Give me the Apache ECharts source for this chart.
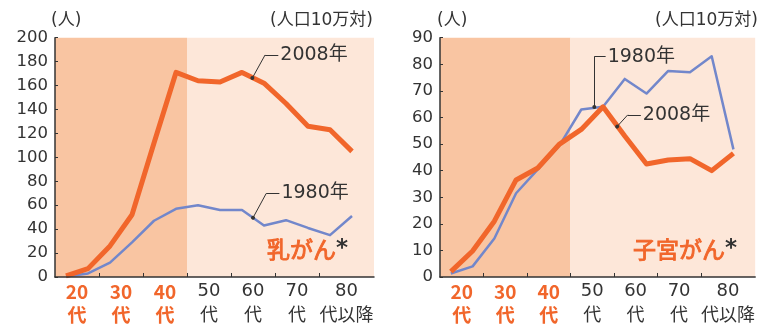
<!DOCTYPE html>
<html>
<head>
<meta charset="utf-8">
<script src="https://cdn.jsdelivr.net/npm/echarts@6/dist/echarts.min.js"></script>
<style>
  html, body { margin: 0; padding: 0; background: #ffffff; }
  #chart { width: 758px; height: 324px; }
</style>
</head>
<body>
<div id="chart"></div>
<script>
// Five-year age bins (20-24 ... 85+), incidence per 100,000 women
const ageBins = ['20-24', '25-29', '30-34', '35-39', '40-44', '45-49', '50-54',
                 '55-59', '60-64', '65-69', '70-74', '75-79', '80-84', '85+'];

// Breast cancer
const breast1980 = [0.5, 3, 12, 29, 47, 57, 60, 56, 56, 43, 47.5, 41, 35, 51];
const breast2008 = [1, 7, 26, 52, 112, 171, 164, 163, 171, 162, 145, 126, 123, 105];

// Uterine cancer
const cervix1980 = [1.3, 4, 14.5, 31.5, 40.5, 49.5, 63, 64, 74.5, 69, 77.5, 77, 83, 48];
const cervix2008 = [2, 9.8, 21, 36.5, 41, 50, 55.5, 64, 53, 42.5, 44, 44.5, 40, 46.5];

// Decade labels under the x axis
const decadeNums = ['20', '30', '40', '50', '60', '70', '80'];
const decadeSuffix = ['代', '代', '代', '代', '代', '代', '代以降'];
const decadePos = [1, 3, 5, 7, 9, 11, 13.25];   // centre of each decade, in bins
const decadeTicks = [2, 4, 6, 8, 10, 12];
const highlightCount = 3;                        // 20代-40代 emphasised

const ORANGE = '#F1662B';
const BLUE = '#7287CB';
const SHADE_DARK = '#F9C5A2';
const SHADE_LIGHT = '#FDE7D9';
const TEXT = '#333333';
const FONT = '"DejaVu Sans", "Noto Sans CJK JP", sans-serif';
const CJK = '"Noto Sans CJK JP", sans-serif';

const toPoints = arr => arr.map((v, i) => [i + 0.5, v]);
const binMax = ageBins.length + 0.5;

function xAxisFor(gridIndex) {
  return {
    type: 'value', gridIndex, min: 0, max: binMax, z: 4,
    axisLine: { show: true, lineStyle: { color: TEXT, width: 1.5 } },
    axisTick: { show: true, inside: true, length: 4, customValues: decadeTicks,
                lineStyle: { color: TEXT, width: 1 } },
    splitLine: { show: false },
    axisLabel: {
      customValues: decadePos, margin: 3,
      formatter: v => {
        const i = decadePos.findIndex(p => Math.abs(p - v) < 1e-6);
        if (i < 0) return '';
        const s = i < highlightCount ? 'hl' : 'n';
        return '{' + s + '|' + decadeNums[i] + '}\n{' + s + 'c|' + decadeSuffix[i] + '}';
      },
      rich: {
        hl: { color: ORANGE, fontWeight: 'bold', fontSize: 19, lineHeight: 23, fontFamily: CJK },
        hlc: { color: ORANGE, fontWeight: 'bold', fontSize: 19, lineHeight: 23, fontFamily: CJK },
        n: { color: TEXT, fontSize: 18, lineHeight: 23, fontFamily: FONT },
        nc: { color: TEXT, fontSize: 18, lineHeight: 23, fontFamily: CJK }
      }
    }
  };
}

function yAxisFor(gridIndex, max, interval) {
  return {
    type: 'value', gridIndex, min: 0, max, interval, z: 4,
    axisLine: { show: true, lineStyle: { color: TEXT, width: 1.5 } },
    axisTick: { show: true, inside: true, length: 3, lineStyle: { color: TEXT, width: 1 } },
    splitLine: { show: false },
    axisLabel: { color: TEXT, fontSize: 16.5, fontFamily: FONT, margin: 7 }
  };
}

function shading(yMax) {
  return {
    silent: true,
    data: [
      [{ xAxis: 0, yAxis: 0, itemStyle: { color: SHADE_DARK } }, { xAxis: 6, yAxis: yMax }],
      [{ xAxis: 6, yAxis: 0, itemStyle: { color: SHADE_LIGHT } }, { xAxis: binMax, yAxis: yMax }]
    ]
  };
}

// Leader line: dot on the curve -> elbow -> horizontal run ending at the label
function leader(dot, elbow, end, text) {
  return {
    silent: true, symbol: 'none', animation: false,
    lineStyle: { color: TEXT, width: 1, type: 'solid' },
    emphasis: { disabled: true },
    label: { show: false },
    data: [
      [{ coord: dot, symbol: 'circle', symbolSize: 4 }, { coord: elbow, symbol: 'none' }],
      [{ coord: elbow, symbol: 'none' },
       { coord: end, symbol: 'none',
         label: { show: true, position: 'end', distance: 2, formatter: text,
                  color: TEXT, fontSize: 19, fontFamily: FONT } }]
    ]
  };
}

function lineSeries(idx, data, color, width, extra) {
  return Object.assign({
    type: 'line', xAxisIndex: idx, yAxisIndex: idx,
    data: toPoints(data), symbol: 'none',
    lineStyle: { color, width, join: 'round' },
    itemStyle: { color }, emphasis: { disabled: true }
  }, extra || {});
}

const titleStyle = { color: TEXT, fontSize: 17, fontWeight: 'normal', fontFamily: FONT };
const nameStyle = {
  fontWeight: 'normal',
  rich: {
    a: { color: ORANGE, fontSize: 23, fontWeight: 'normal', fontFamily: CJK,
         textBorderColor: ORANGE, textBorderWidth: 0.9 },
    b: { color: TEXT, fontSize: 23, fontWeight: 'bold', fontFamily: FONT }
  }
};

const chart = echarts.init(document.getElementById('chart'), null, { renderer: 'canvas' });
chart.setOption({
  animation: false,
  backgroundColor: '#ffffff',
  title: [
    { text: '(人)', left: 51, top: 12, padding: 0, textStyle: titleStyle },
    { text: '(人口10万対)', right: 385, top: 12, padding: 0, textStyle: titleStyle },
    { text: '(人)', left: 437, top: 12, padding: 0, textStyle: titleStyle },
    { text: '(人口10万対)', right: 0, top: 12, padding: 0, textStyle: titleStyle },
    { text: '{a|乳がん}{b|*}', left: 267, top: 238, padding: 0, textStyle: nameStyle },
    { text: '{a|子宮がん}{b|*}', left: 633, top: 238, padding: 0, textStyle: nameStyle }
  ],
  grid: [
    { left: 55, top: 37.7, width: 319, height: 240 },
    { left: 440, top: 37.7, width: 319, height: 240 }
  ],
  xAxis: [xAxisFor(0), xAxisFor(1)],
  yAxis: [yAxisFor(0, 200, 20), yAxisFor(1, 90, 10)],
  series: [
    lineSeries(0, breast1980, BLUE, 2.5, {
      markArea: shading(200),
      markLine: leader([9.0, 49.5], [9.6, 69.8], [10.2, 69.8], '1980年')
    }),
    lineSeries(0, breast2008, ORANGE, 5, {
      markLine: leader([8.97, 166.3], [9.55, 185.6], [10.15, 185.6], '2008年')
    }),
    lineSeries(1, cervix1980, BLUE, 2.5, {
      markArea: shading(90),
      markLine: leader([7.1, 63.9], [7.1, 82.9], [7.62, 82.9], '1980年')
    }),
    lineSeries(1, cervix2008, ORANGE, 5, {
      markLine: leader([8.15, 56.6], [8.64, 61.0], [9.24, 61.0], '2008年')
    })
  ]
});
</script>
</body>
</html>
